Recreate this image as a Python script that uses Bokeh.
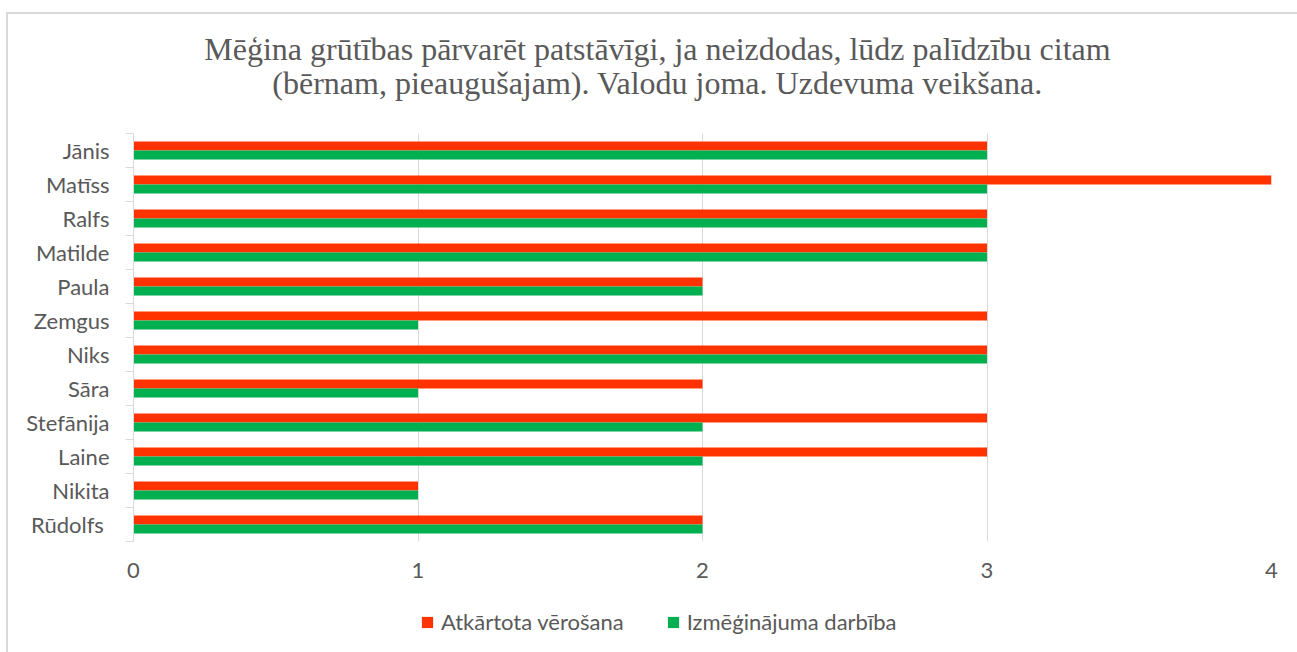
import numpy as np
from bokeh.plotting import figure
from bokeh.layouts import column
from bokeh.models import (ColumnDataSource, FixedTicker, Legend, LegendItem,
                          Range1d, Label)
from bokeh.embed import file_html
from bokeh.resources import INLINE

names = ["Jānis", "Matīss", "Ralfs", "Matilde", "Paula", "Zemgus", "Niks",
         "Sāra", "Stefānija", "Laine", "Nikita", "Rūdolfs "]
atkartota = [3, 4, 3, 3, 2, 3, 3, 2, 3, 3, 1, 2]
izmeginajuma = [3, 3, 3, 3, 2, 1, 3, 1, 2, 2, 1, 2]
series_names = ["Atkārtota vērošana", "Izmēģinājuma darbība"]
colors = ["#FF3300", "#00B050"]
x_ticks = [0, 1, 2, 3, 4]
title_lines = ["Mēģina grūtības pārvarēt patstāvīgi, ja neizdodas, lūdz palīdzību citam",
               "(bērnam, pieaugušajam). Valodu joma. Uzdevuma veikšana."]

TEXT = "#595959"
GRID = "#d9d9d9"
OX, OY = 8, 14            # margin + border of the outer container
W = 1297 - OX
FL, FR = 133, 1271        # page x of the (aligned) frames
TOP_CHART, BOT_CHART = 133, 590
H0 = TOP_CHART - OY       # title strip
H1 = BOT_CHART - TOP_CHART
H2 = 652 - BOT_CHART      # legend strip

n = len(names)
centers = (n - 1 - np.arange(n)) + 0.5
bar_h = 0.265

src = ColumnDataSource(dict(
    name=names,
    y_red=centers + bar_h / 2,
    y_green=centers - bar_h / 2,
    red=atkartota,
    green=izmeginajuma,
))

def strip(height, y_top):
    # page-pixel coordinates: x = page x, y = page y (inverted range)
    f = figure(width=W, height=height, output_backend="svg", toolbar_location=None,
               x_range=Range1d(FL, FR), y_range=Range1d(y_top + height, y_top),
               min_border_left=FL - OX, min_border_right=1297 - FR,
               min_border_top=0, min_border_bottom=0)
    f.axis.visible = False
    f.grid.visible = False
    f.outline_line_color = None
    f.background_fill_color = "white"
    f.border_fill_color = "white"
    return f

# ---- title strip
p0 = strip(H0, OY)
for line, base in zip(title_lines, [48, 82]):
    p0.add_layout(Label(x=657, y=base, text=line, text_align="center",
                        text_baseline="alphabetic", text_font="Liberation Serif",
                        text_font_size="32px", text_color=TEXT))

# ---- chart
p = figure(width=W, height=H1, output_backend="svg", toolbar_location=None,
           x_range=Range1d(0, 4), y_range=Range1d(0, n),
           min_border_left=FL - OX, min_border_right=1297 - FR, min_border_top=0,
           min_border_bottom=BOT_CHART - 541)
p.outline_line_color = None
p.background_fill_color = "white"
p.border_fill_color = "white"

r1 = p.hbar(y="y_red", right="red", left=0, height=bar_h, source=src,
            fill_color=colors[0], line_color=None)
r2 = p.hbar(y="y_green", right="green", left=0, height=bar_h, source=src,
            fill_color=colors[1], line_color=None)

p.xaxis.ticker = FixedTicker(ticks=x_ticks)
p.xaxis.axis_line_color = None
p.xaxis.major_tick_line_color = None
p.xaxis.minor_tick_line_color = None
p.xaxis.major_tick_in = 0
p.xaxis.major_tick_out = 0
p.xaxis.major_label_standoff = 21
p.xaxis.major_label_text_font = "Lato"
p.xaxis.major_label_text_font_size = "22px"
p.xaxis.major_label_text_color = TEXT

p.yaxis.ticker = FixedTicker(ticks=list(centers), minor_ticks=list(range(n + 1)))
p.yaxis.major_label_overrides = {float(c): nm for c, nm in zip(centers, names)}
p.yaxis.axis_line_color = GRID
p.yaxis.axis_line_width = 1
p.yaxis.major_tick_line_color = None
p.yaxis.major_tick_in = 0
p.yaxis.major_tick_out = 0
p.yaxis.minor_tick_line_color = GRID
p.yaxis.minor_tick_in = 0
p.yaxis.minor_tick_out = 8
p.yaxis.major_label_standoff = 16
p.yaxis.major_label_text_font = "Lato"
p.yaxis.major_label_text_font_size = "22px"
p.yaxis.major_label_text_color = TEXT

p.xgrid.grid_line_color = GRID
p.xgrid.grid_line_width = 1
p.ygrid.grid_line_color = None

# ---- legend strip
p2 = strip(H2, BOT_CHART)
proxy = ColumnDataSource(dict(y=[np.nan], right=[np.nan]))
g1 = p2.hbar(y="y", right="right", left=0, height=1, source=proxy,
             fill_color=colors[0], line_color=None)
g2 = p2.hbar(y="y", right="right", left=0, height=1, source=proxy,
             fill_color=colors[1], line_color=None)
legend = Legend(items=[LegendItem(label=series_names[0], renderers=[g1]),
                       LegendItem(label=series_names[1], renderers=[g2])],
                orientation="horizontal", location=(420 - FL, 652 - 635),
                padding=0, margin=0, spacing=42, glyph_width=14, glyph_height=14,
                label_text_font="Lato", label_text_font_size="22px",
                label_text_color=TEXT, border_line_color=None,
                background_fill_alpha=0, label_standoff=7)
p2.add_layout(legend)

layout = column(p0, p, p2, spacing=0)
layout.styles = {"margin-left": "6px", "margin-top": "12px",
                 "border-left": "2px solid #d9d9d9", "border-top": "2px solid #d9d9d9"}

open("out.html", "w").write(file_html(layout, INLINE))
